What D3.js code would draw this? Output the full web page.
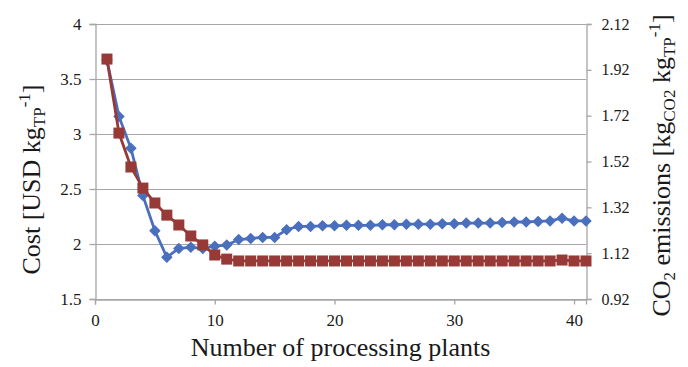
<!DOCTYPE html>
<html>
<head>
<meta charset="utf-8">
<script src="https://cdn.jsdelivr.net/npm/d3@7"></script>
<style>
  body { margin: 0; background: #fff; }
  svg text { font-family: "Liberation Serif", "DejaVu Serif", serif; fill: #1a1a1a; }
</style>
</head>
<body>
<div id="chart"></div>
<script>
// data
var plants = [1, 2, 3, 4, 5, 6, 7, 8, 9, 10, 11, 12, 13, 14, 15, 16, 17, 18, 19, 20,
              21, 22, 23, 24, 25, 26, 27, 28, 29, 30, 31, 32, 33, 34, 35, 36, 37, 38, 39, 40, 41];
var cost = [3.67, 3.16, 2.87, 2.44, 2.12, 1.88, 1.96, 1.97, 1.96, 1.98, 1.99, 2.04, 2.05, 2.06, 2.06,
            2.13, 2.16, 2.16, 2.165, 2.165, 2.17, 2.17, 2.17, 2.175, 2.175, 2.18, 2.18, 2.18, 2.185,
            2.185, 2.19, 2.19, 2.19, 2.195, 2.2, 2.2, 2.205, 2.21, 2.235, 2.21, 2.21];
var co2 = [1.967, 1.644, 1.496, 1.404, 1.339, 1.286, 1.243, 1.195, 1.156, 1.112, 1.094, 1.086, 1.086,
           1.086, 1.086, 1.086, 1.086, 1.086, 1.086, 1.086, 1.086, 1.086, 1.086, 1.086, 1.086, 1.086,
           1.086, 1.086, 1.086, 1.086, 1.086, 1.086, 1.086, 1.086, 1.086, 1.086, 1.086, 1.086, 1.090,
           1.086, 1.086];
var xTicks = [0, 10, 20, 30, 40];
var costTicks = [1.5, 2, 2.5, 3, 3.5, 4];
var co2Ticks = [0.92, 1.12, 1.32, 1.52, 1.72, 1.92, 2.12];

// set the dimensions and margins of the graph
var margin = {top: 24, right: 102, bottom: 68, left: 95},
    width = 688 - margin.left - margin.right,
    height = 367 - margin.top - margin.bottom;

var serif = "'Liberation Serif', 'DejaVu Serif', serif",
    gridColor = "#a6a6a6",
    blue = "#4a6fbd",
    red = "#973a37";

// set the ranges
var x = d3.scaleLinear().domain([0, 41]).range([0, width]);
var yCost = d3.scaleLinear().domain([1.5, 4]).range([height, 0]);
var yCo2 = d3.scaleLinear().domain([0.92, 2.12]).range([height, 0]);

var svg = d3.select("#chart").append("svg")
    .attr("width", 688)
    .attr("height", 367)
  .append("g")
    .attr("transform", "translate(" + margin.left + "," + margin.top + ")");

// horizontal gridlines
svg.selectAll(".grid")
    .data(costTicks)
  .enter().append("line")
    .attr("x1", 0)
    .attr("x2", width)
    .attr("y1", function(d) { return Math.round(yCost(d)) + 0.5; })
    .attr("y2", function(d) { return Math.round(yCost(d)) + 0.5; })
    .attr("stroke", gridColor)
    .attr("stroke-width", 1);

// axes
var xAxis = svg.append("g")
    .attr("transform", "translate(0," + (height + 0.5) + ")")
    .call(d3.axisBottom(x).tickValues(xTicks).tickSize(5).tickPadding(9).tickFormat(d3.format("d")));

var leftAxis = svg.append("g")
    .attr("transform", "translate(0.5,0)")
    .call(d3.axisLeft(yCost).tickValues(costTicks).tickSize(6).tickPadding(8).tickFormat(function(d) { return d; }));

var rightAxis = svg.append("g")
    .attr("transform", "translate(" + (width + 0.5) + ",0)")
    .call(d3.axisRight(yCo2).tickValues(co2Ticks).tickSize(5).tickPadding(10).tickFormat(d3.format(".2f")));

[xAxis, leftAxis, rightAxis].forEach(function(a) {
  a.attr("font-family", serif);
  a.select(".domain").attr("stroke", gridColor).attr("stroke-width", 1.3);
  a.selectAll(".tick line").attr("stroke", gridColor).attr("stroke-width", 1.3);
  a.selectAll(".tick text")
      .attr("font-size", 17)
      .style("font-family", serif)
      .attr("fill", "#1a1a1a");
});
rightAxis.selectAll(".tick text").attr("font-size", 16);

// lines
var costLine = d3.line()
    .x(function(d, i) { return x(plants[i]); })
    .y(function(d) { return yCost(d); });
var co2Line = d3.line()
    .x(function(d, i) { return x(plants[i]); })
    .y(function(d) { return yCo2(d); });

svg.append("path")
    .datum(cost)
    .attr("fill", "none")
    .attr("stroke", blue)
    .attr("stroke-width", 2.8)
    .attr("d", costLine);

svg.selectAll(".diamond")
    .data(cost)
  .enter().append("path")
    .attr("class", "diamond")
    .attr("d", d3.symbol().type(d3.symbolDiamond2).size(85))
    .attr("transform", function(d, i) { return "translate(" + x(plants[i]) + "," + yCost(d) + ")"; })
    .attr("fill", blue);

svg.append("path")
    .datum(co2)
    .attr("fill", "none")
    .attr("stroke", red)
    .attr("stroke-width", 2.8)
    .attr("d", co2Line);

svg.selectAll(".square")
    .data(co2)
  .enter().append("rect")
    .attr("class", "square")
    .attr("x", function(d, i) { return x(plants[i]) - 5.5; })
    .attr("y", function(d) { return yCo2(d) - 5.5; })
    .attr("width", 11)
    .attr("height", 11)
    .attr("fill", red);

// axis titles
var xTitle = svg.append("text")
    .attr("x", width / 2)
    .attr("y", height + 57)
    .attr("text-anchor", "middle")
    .attr("font-size", 26)
    .text("Number of processing plants");

var leftTitle = svg.append("text")
    .attr("transform", "translate(-55," + (height / 2 + 18) + ") rotate(-90)")
    .attr("text-anchor", "middle")
    .attr("font-size", 26);
leftTitle.append("tspan").text("Cost [USD kg");
leftTitle.append("tspan").attr("font-size", 17).attr("dy", 5).text("TP");
leftTitle.append("tspan").attr("font-size", 17).attr("dy", -15).text("-1");
leftTitle.append("tspan").attr("dy", 10).text("]");

var rightTitle = svg.append("text")
    .attr("transform", "translate(" + (width + 84) + "," + (height / 2 + 4) + ") rotate(-90)")
    .attr("text-anchor", "middle")
    .attr("font-size", 26);
rightTitle.append("tspan").text("CO");
rightTitle.append("tspan").attr("font-size", 17).attr("dy", 5).text("2");
rightTitle.append("tspan").attr("dy", -5).text(" emissions [kg");
rightTitle.append("tspan").attr("font-size", 17).attr("dy", 5).text("CO2");
rightTitle.append("tspan").attr("dy", -5).text(" kg");
rightTitle.append("tspan").attr("font-size", 17).attr("dy", 5).text("TP");
rightTitle.append("tspan").attr("font-size", 17).attr("dy", -15).text("-1");
rightTitle.append("tspan").attr("dy", 10).text("]");
</script>
</body>
</html>
